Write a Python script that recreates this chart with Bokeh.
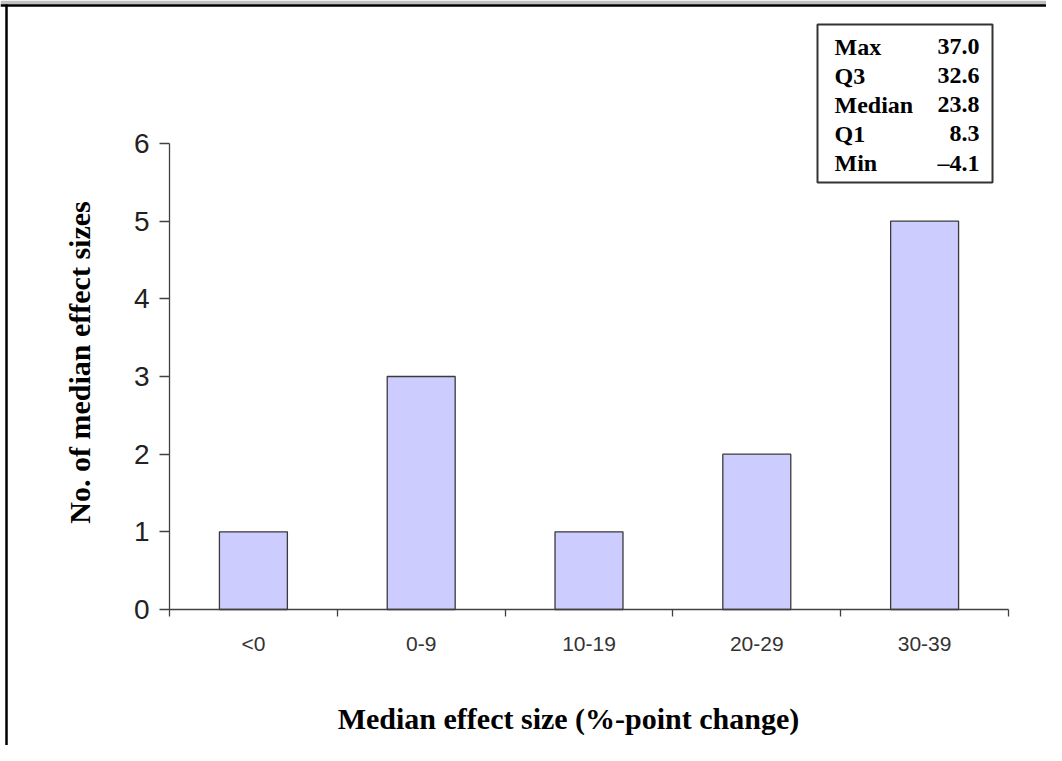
import math
from bokeh.plotting import figure
from bokeh.models import Range1d, FixedTicker
from bokeh.core.properties import value
from bokeh.embed import file_html
from bokeh.resources import INLINE

# ---- data ----
categories = ["<0", "0-9", "10-19", "20-29", "30-39"]
counts = [1, 3, 1, 2, 5]
y_ticks = [0, 1, 2, 3, 4, 5, 6]
stat_names = ["Max", "Q3", "Median", "Q1", "Min"]
stat_values = ["37.0", "32.6", "23.8", "8.3", "\u20134.1"]
x_title = "Median effect size (%-point change)"
y_title = "No. of median effect sizes"

# ---- layout (pixels on the canvas) ----
W, H = 1046, 745
AX_L, AX_R, AX_T, AX_B = 169, 1008, 143, 609   # plotting area edges
Y_MAX = 6
N = len(categories)

def px_x(px):
    return (px - AX_L) / (AX_R - AX_L) * N

def px_y(py):
    return (AX_B - py) / (AX_B - AX_T) * Y_MAX

p = figure(width=W, height=H, output_backend="svg", toolbar_location=None,
           x_range=Range1d(px_x(0), px_x(W)), y_range=Range1d(px_y(H), px_y(0)),
           min_border_left=0, min_border_right=0, min_border_top=0, min_border_bottom=0,
           background_fill_color="white", border_fill_color="white",
           outline_line_color=None)
p.grid.visible = False

# page frame decoration (grey band + black edges)
p.quad(left=[px_x(0)], right=[px_x(W)], top=[px_y(0)], bottom=[px_y(4)],
       fill_color="#c0c0c0", line_color=None)
p.segment(x0=[px_x(0)], y0=[px_y(5)], x1=[px_x(W)], y1=[px_y(5)],
          line_color="black", line_width=2.5)
p.segment(x0=[px_x(6)], y0=[px_y(4)], x1=[px_x(6)], y1=[px_y(H)],
          line_color="black", line_width=2.5)

# bars
centers = [i + 0.5 for i in range(N)]
p.vbar(x=centers, top=counts, bottom=0, width=0.405,
       fill_color="#CCCCFF", line_color="#3a3a3a", line_width=1.3)

# x axis
xa = p.xaxis[0]
xa.fixed_location = 0
xa.bounds = (0, N)
xa.ticker = FixedTicker(ticks=centers, minor_ticks=list(range(N + 1)))
xa.major_label_overrides = {c: lab for c, lab in zip(centers, categories)}
xa.major_tick_out = 0
xa.major_tick_in = 0
xa.minor_tick_out = 7
xa.minor_tick_in = 0
xa.minor_tick_line_color = "#404040"
xa.minor_tick_line_width = 1.3
xa.axis_line_color = "#404040"
xa.axis_line_width = 1.3
xa.major_label_text_font = "Liberation Sans"
xa.major_label_text_font_size = "21px"
xa.major_label_text_color = "#333333"
xa.major_label_standoff = 15

# y axis
ya = p.yaxis[0]
ya.fixed_location = 0
ya.bounds = (0, Y_MAX)
ya.ticker = FixedTicker(ticks=y_ticks, minor_ticks=[])
ya.major_tick_out = 10
ya.major_tick_in = 0
ya.minor_tick_out = 0
ya.minor_tick_in = 0
ya.major_tick_line_color = "#404040"
ya.major_tick_line_width = 1.3
ya.axis_line_color = "#404040"
ya.axis_line_width = 1.3
ya.major_label_text_font = "Liberation Sans"
ya.major_label_text_font_size = "28px"
ya.major_label_text_color = "#222222"
ya.major_label_standoff = 10

# axis titles
p.text(x=[px_x(568)], y=[px_y(718)], text=[x_title],
       text_font=value("Liberation Serif"), text_font_style="bold",
       text_font_size="30px", text_color="black",
       text_align="center", text_baseline="middle")
p.text(x=[px_x(79)], y=[px_y(362)], text=[y_title], angle=math.pi / 2,
       text_font=value("Liberation Serif"), text_font_style="bold",
       text_font_size="30px", text_color="black",
       text_align="center", text_baseline="middle")

# stats box
p.quad(left=[px_x(817)], right=[px_x(992)], top=[px_y(24)], bottom=[px_y(182)],
       fill_color="white", line_color="#333333", line_width=2)
row_mid = [px_y(46 + 29 * i) for i in range(len(stat_names))]
p.text(x=[px_x(834)] * len(stat_names), y=row_mid, text=stat_names,
       text_font=value("Liberation Serif"), text_font_style="bold",
       text_font_size="24px", text_color="black",
       text_align="left", text_baseline="middle")
p.text(x=[px_x(979)] * len(stat_values), y=row_mid, text=stat_values,
       text_font=value("Liberation Serif"), text_font_style="bold",
       text_font_size="24px", text_color="black",
       text_align="right", text_baseline="middle")

open("out.html", "w").write(file_html(p, INLINE))
